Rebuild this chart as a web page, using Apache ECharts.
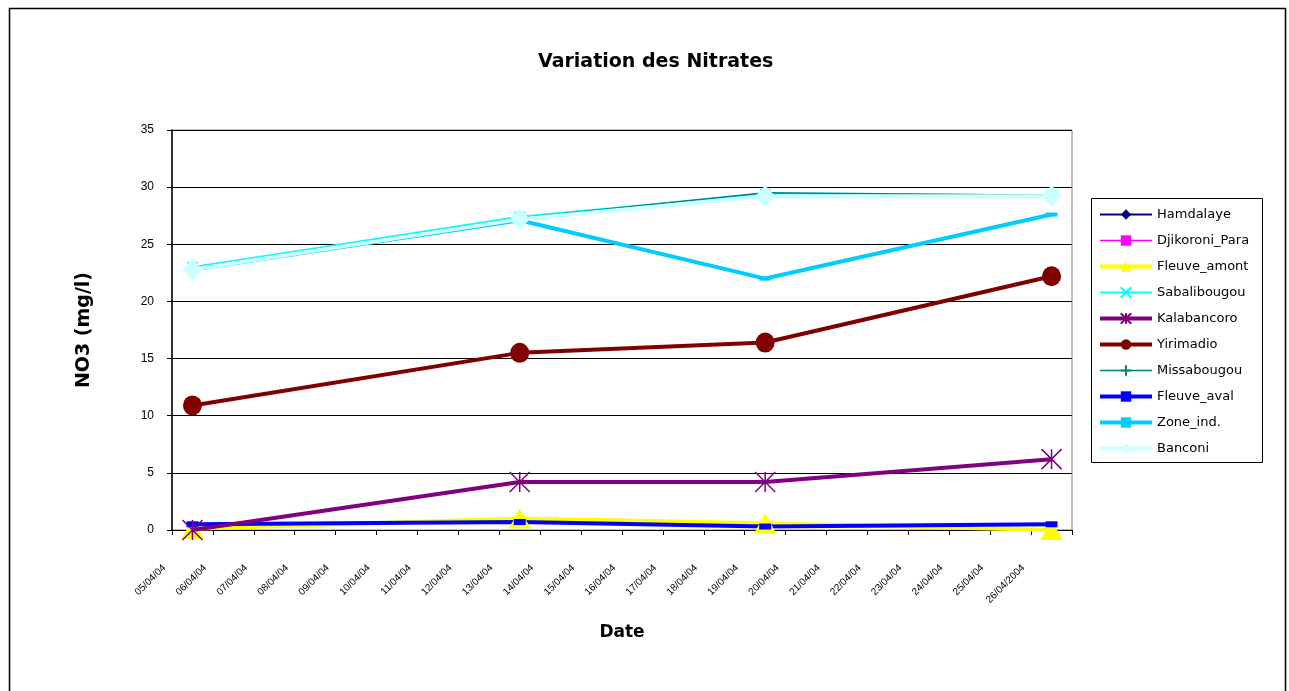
<!DOCTYPE html>
<html>
<head>
<meta charset="utf-8">
<script src="https://cdn.jsdelivr.net/npm/echarts@6/dist/echarts.min.js"></script>
<style>
html,body{margin:0;padding:0;background:#fff;}
#c{width:1289px;height:691px;}
</style>
</head>
<body>
<div id="c"></div>
<script>
// Category labels (daily dates)
const dates = ['05/04/04','06/04/04','07/04/04','08/04/04','09/04/04','10/04/04','11/04/04','12/04/04','13/04/04','14/04/04','15/04/04','16/04/04','17/04/04','18/04/04','19/04/04','20/04/04','21/04/04','22/04/04','23/04/04','24/04/04','25/04/04','26/04/2004'];
// Sampling dates
const sampleDates = ['05/04/04','13/04/04','19/04/04','26/04/2004'];
const yTicks = [0,5,10,15,20,25,30,35];

const Hamdalaye     = [22.8, 27.2, 29.2, 29.2];
const DjikoroniPara = [23.0, 27.2, 29.3, 29.2];
const FleuveAmont   = [0.1, 1.0, 0.6, 0.0];
const Sabalibougou  = [23.0, 27.4, 29.4, 29.3];
const Kalabancoro   = [0.0, 4.2, 4.2, 6.2];
const Yirimadio     = [10.9, 15.5, 16.4, 22.2];
const Missabougou   = [22.9, 27.3, 29.5, 29.3];
const FleuveAval    = [0.5, 0.7, 0.3, 0.5];
const ZoneInd       = [22.8, 27.1, 22.0, 27.6];
const Banconi       = [22.8, 27.2, 29.2, 29.2];

const WIDE = '"DejaVu Sans", Verdana, sans-serif';
const ARIAL = 'Arial, "Liberation Sans", sans-serif';

function pts(vals){ return sampleDates.map((d,i)=>[d, vals[i]]); }

function mk(name, vals, color, width, symbol, size, extra){
  const s = {
    name: name, type: 'line', data: pts(vals),
    symbol: symbol, symbolSize: size, showSymbol: true,
    lineStyle: {color: color, width: width},
    itemStyle: {color: color},
    emphasis: {disabled: true}
  };
  return Object.assign(s, extra || {});
}

const series = [
  mk('Hamdalaye', Hamdalaye, '#000080', 2, 'diamond', 10),
  mk('Djikoroni_Para', DjikoroniPara, '#FF00FF', 1.5, 'rect', 8),
  mk('Fleuve_amont', FleuveAmont, '#FFFF00', 4, 'triangle', [22,20], {z: 3}),
  mk('Sabalibougou', Sabalibougou, '#00FFFF', 2, 'path://M0,0L10,10M10,0L0,10', 10,
     {itemStyle:{color:'#00FFFF', borderColor:'#00FFFF', borderWidth:2}}),
  mk('Kalabancoro', Kalabancoro, '#800080', 4, 'path://M0,0L20,20M20,0L0,20M10,0L10,20', 20,
     {itemStyle:{color:'#800080', borderColor:'#800080', borderWidth:1.5}, z: 4}),
  mk('Yirimadio', Yirimadio, '#800000', 4, 'circle', [19,20]),
  mk('Missabougou', Missabougou, '#008080', 1.5, 'path://M5,0L5,10M0,5L10,5', 10,
     {itemStyle:{color:'#008080', borderColor:'#008080', borderWidth:1.5}}),
  mk('Fleuve_aval', FleuveAval, '#0000FF', 4, 'rect', [12,6]),
  mk('Zone_ind.', ZoneInd, '#00CCFF', 4, 'rect', [12,4]),
  mk('Banconi', Banconi, '#CCFFFF', 4, 'diamond', [20,22])
];

const chart = echarts.init(document.getElementById('c'), null, {renderer:'canvas'});
chart.setOption({
  animation: false,
  backgroundColor: '#fff',
  textStyle: {fontFamily: ARIAL},
  title: {
    text: 'Variation des Nitrates',
    left: 533, top: 48,
    textStyle: {fontSize: 19, fontWeight: 'bold', color: '#000', fontFamily: WIDE}
  },
  graphic: [
    {type:'rect', shape:{x:9.5, y:8.5, width:1276, height:700}, style:{fill:'none', stroke:'#000', lineWidth:1.5}, z:-1, silent:true},
    {type:'rect', shape:{x:1091.5, y:198.5, width:171, height:264}, style:{fill:'#fff', stroke:'#000', lineWidth:1}, z:-1, silent:true}
  ],
  legend: {
    orient: 'vertical',
    left: 1098, top: 208,
    padding: 0,
    itemWidth: 52, itemHeight: 13, itemGap: 13,
    textStyle: {fontSize: 13, color:'#000', fontFamily: WIDE},
    data: series.map(s=>({name: s.name, lineStyle: {width: s.lineStyle.width}}))
  },
  grid: {
    left: 172, right: 217, top: 130, bottom: 161,
    show: true, borderColor: '#808080', borderWidth: 1,
    containLabel: false, outerBoundsMode: 'none'
  },
  xAxis: {
    type: 'category',
    data: dates,
    boundaryGap: true,
    name: 'Date',
    nameLocation: 'middle',
    nameGap: 94,
    nameTextStyle: {fontSize: 17, fontWeight: 'bold', color: '#000', fontFamily: WIDE},
    axisLine: {lineStyle: {color: '#000', width: 1}},
    axisTick: {show: true, length: 5, lineStyle: {color:'#000'}, interval: 0},
    axisLabel: {rotate: 45, interval: 0, fontSize: 10, color: '#000', margin: 8, padding: [0, 40, 0, 0]}
  },
  yAxis: {
    type: 'value',
    min: 0, max: 35, interval: 5,
    name: 'NO3 (mg/l)',
    nameLocation: 'middle',
    nameGap: 78,
    nameRotate: 90,
    nameTextStyle: {fontSize: 19, fontWeight: 'bold', color: '#000', fontFamily: WIDE},
    axisLine: {show: true, lineStyle: {color: '#000', width: 1.5}},
    axisTick: {show: true, length: 5, lineStyle: {color:'#000'}},
    axisLabel: {fontSize: 12, color: '#000', margin: 18,
      formatter: v => yTicks.includes(v) ? String(v) : ''},
    splitLine: {show: true, lineStyle: {color: '#000', width: 1}}
  },
  series: series
});
</script>
</body>
</html>
